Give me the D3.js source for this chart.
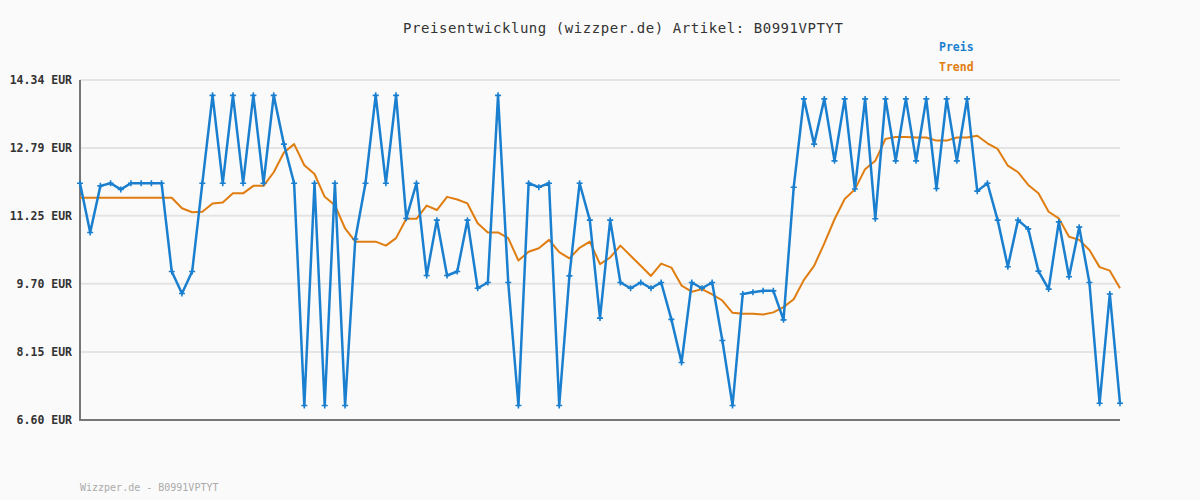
<!DOCTYPE html>
<html>
<head>
	<title>Preisentwicklung</title>
	<script type="text/javascript" src="https://cdn.jsdelivr.net/npm/d3@7"></script>
	<style type="text/css">
		body{ margin:0; background:#fafafa; }
		.chart{ display:block; background:#fafafa; }
	</style>
</head>
<body>

	<svg width="1200" height="500" class="chart"></svg>

	<script type="text/javascript">

		var preis = [11.99,10.87,11.93,11.99,11.85,11.99,11.99,11.99,11.99,9.98,
			9.48,9.98,11.99,13.99,11.99,13.99,11.99,13.99,11.99,13.99,
			12.88,11.99,6.93,11.99,6.93,11.99,6.93,10.72,11.99,13.99,
			11.99,13.99,11.19,11.99,9.89,11.15,9.89,9.98,11.15,9.60,
			9.73,13.99,9.73,6.93,11.99,11.90,11.99,6.93,9.88,11.99,
			11.15,8.92,11.15,9.73,9.60,9.73,9.60,9.73,8.89,7.91,
			9.73,9.60,9.73,8.41,6.93,9.47,9.51,9.54,9.54,8.88,
			11.90,13.91,12.88,13.91,12.50,13.91,11.86,13.91,11.18,13.91,
			12.50,13.91,12.50,13.91,11.87,13.91,12.50,13.91,11.81,11.99,
			11.15,10.09,11.15,10.95,9.99,9.58,11.11,9.86,10.99,9.73,
			6.98,9.47,6.98]

		var trend = [11.66,11.66,11.66,11.66,11.66,11.66,11.66,11.66,11.66,11.66,
			11.42,11.33,11.34,11.53,11.55,11.76,11.76,11.93,11.93,12.24,
			12.69,12.88,12.40,12.20,11.68,11.49,10.96,10.66,10.66,10.66,
			10.57,10.74,11.18,11.18,11.48,11.38,11.68,11.62,11.53,11.08,
			10.87,10.87,10.74,10.23,10.43,10.51,10.70,10.42,10.28,10.52,
			10.66,10.15,10.30,10.57,10.34,10.11,9.88,10.16,10.07,9.66,
			9.52,9.58,9.46,9.32,9.04,9.02,9.02,9.00,9.05,9.17,
			9.35,9.79,10.11,10.62,11.17,11.63,11.85,12.31,12.50,13.00,
			13.04,13.04,13.03,13.03,12.96,12.96,13.03,13.03,13.07,12.90,
			12.77,12.39,12.24,11.95,11.76,11.34,11.19,10.77,10.70,10.47,
			10.08,10.00,9.60]

		var ytick_values = [6.60, 8.15, 9.70, 11.25, 12.79, 14.34]
		var ytick_labels = ['6.60 EUR', '8.15 EUR', '9.70 EUR', '11.25 EUR', '12.79 EUR', '14.34 EUR']

		var series_names = ['Preis', 'Trend']
		var title_text = 'Preisentwicklung (wizzper.de) Artikel: B0991VPTYT'
		var footer_text = 'Wizzper.de - B0991VPTYT'

		var blue = '#1a7fcf'
		var orange = '#e07d10'
		var mono = '"DejaVu Sans Mono", "Liberation Mono", monospace'

		var margin = {'top':80, 'right':80, 'bottom':80, 'left':80}
		var active_width = 1200 - margin.left - margin.right
		var active_height = 500 - margin.top - margin.bottom

		var svg = d3.select('.chart')

		var xscale = d3.scaleLinear()
			.domain([0, preis.length - 1])
			.range([0, active_width])

		var yscale = d3.scaleLinear()
			.domain([ytick_values[0], ytick_values[ytick_values.length - 1]])
			.range([active_height, 0])

		var g = svg.append('g')
			.attr('transform', 'translate(' + margin.left + ',' + margin.top + ')')

		// grid lines
		g.append('g')
			.selectAll('line')
			.data(ytick_values.slice(1))
			.enter()
			.append('line')
			.attr('x1', 0)
			.attr('x2', active_width)
			.attr('y1', function(d) {return yscale(d)})
			.attr('y2', function(d) {return yscale(d)})
			.attr('stroke', '#e4e4e4')
			.attr('stroke-width', 2)

		// y axis labels
		var yaxis = g.append('g')
			.call(d3.axisLeft(yscale)
				.tickValues(ytick_values)
				.tickSize(0)
				.tickPadding(8)
				.tickFormat(function(d, i) {return ytick_labels[i]}))
		yaxis.select('.domain').remove()
		yaxis.selectAll('text')
			.attr('font-family', mono)
			.attr('font-size', 11.5)
			.attr('font-weight', 'bold')
			.attr('fill', '#333')

		// axis lines
		g.append('line')
			.attr('x1', 0).attr('x2', 0)
			.attr('y1', 0).attr('y2', active_height + 1)
			.attr('stroke', '#777').attr('stroke-width', 2)
		g.append('line')
			.attr('x1', -1).attr('x2', active_width)
			.attr('y1', active_height).attr('y2', active_height)
			.attr('stroke', '#777').attr('stroke-width', 2)

		var line = d3.line()
			.x(function(d, i) {return xscale(i)})
			.y(function(d) {return yscale(d)})
			.curve(d3.curveLinear)

		g.append('path')
			.attr('d', line(trend))
			.attr('fill', 'none')
			.attr('stroke', orange)
			.attr('stroke-width', 2)
			.attr('stroke-linejoin', 'round')

		g.append('path')
			.attr('d', line(preis))
			.attr('fill', 'none')
			.attr('stroke', blue)
			.attr('stroke-width', 2.5)
			.attr('stroke-linejoin', 'round')

		// plus markers
		g.append('g')
			.selectAll('path')
			.data(preis)
			.enter()
			.append('path')
			.attr('d', function(d, i) {
				var x = xscale(i), y = yscale(d)
				return 'M' + (x - 3) + ',' + y + 'H' + (x + 3) + 'M' + x + ',' + (y - 3) + 'V' + (y + 3)
			})
			.attr('stroke', blue)
			.attr('stroke-width', 1.6)

		// title
		svg.append('text')
			.attr('x', 623)
			.attr('y', 33)
			.attr('text-anchor', 'middle')
			.attr('font-family', mono)
			.attr('font-size', 14)
			.attr('fill', '#333')
			.attr('textLength', 440)
			.text(title_text)

		// legend
		svg.selectAll('.legend')
			.data(series_names)
			.enter()
			.append('text')
			.attr('class', 'legend')
			.attr('x', 939)
			.attr('y', function(d, i) {return 51 + i * 20})
			.attr('font-family', mono)
			.attr('font-size', 11.5)
			.attr('font-weight', 'bold')
			.attr('fill', function(d, i) {return i == 0 ? blue : orange})
			.text(function(d) {return d})

		// footer
		svg.append('text')
			.attr('x', 80)
			.attr('y', 491)
			.attr('font-family', mono)
			.attr('font-size', 10)
			.attr('fill', '#aaa')
			.text(footer_text)

	</script>

</body>
</html>
